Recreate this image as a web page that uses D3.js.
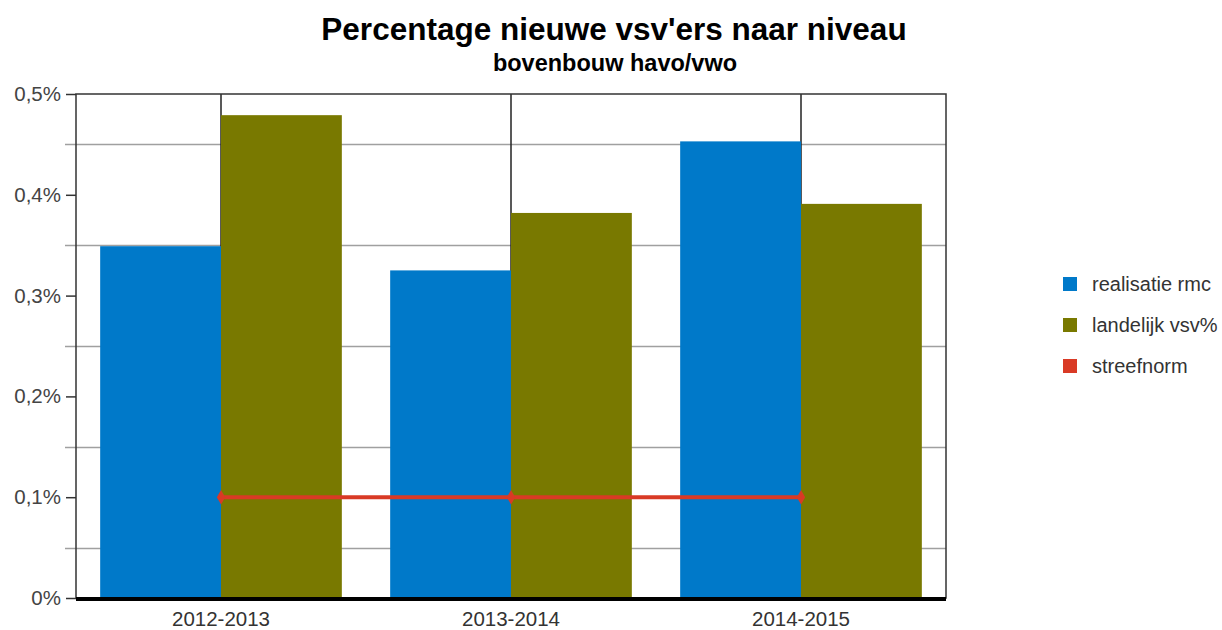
<!DOCTYPE html>
<html>
<head>
<meta charset="utf-8">
<script src="https://cdn.jsdelivr.net/npm/d3@7"></script>
<style>
  body { margin: 0; background: #fff; }
  text { font-family: "Liberation Sans", Arial, sans-serif; }
</style>
</head>
<body>
<svg id="chart" width="1222" height="630"></svg>
<script>
// data
const years = ["2012-2013", "2013-2014", "2014-2015"];
const realisatie = [0.349, 0.325, 0.453];
const landelijk = [0.479, 0.382, 0.391];
const streefnorm = [0.1, 0.1, 0.1];
const seriesNames = ["realisatie rmc", "landelijk vsv%", "streefnorm"];
const yTicks = [0, 0.1, 0.2, 0.3, 0.4, 0.5];
const yMinor = [0.05, 0.15, 0.25, 0.35, 0.45];

const colors = ["#0079c9", "#797900", "#d93a25"];

const svg = d3.select("#chart");
const margin = { top: 94, left: 76, bottom: 32, right: 276 };
const width = 1222, height = 630;

const x = d3.scaleBand().domain(years).range([margin.left, width - margin.right]);
const y = d3.scaleLinear().domain([0, 0.5]).range([height - margin.bottom, margin.top]);
const inner = d3.scaleBand().domain([0, 1]).range([0, x.bandwidth()]).paddingOuter(0.2);

const fmt = v => (v === 0 ? "0" : String(v).replace(".", ",")) + "%";

// minor gridlines
svg.append("g").selectAll("line").data(yMinor).join("line")
  .attr("x1", margin.left - 11).attr("x2", width - margin.right)
  .attr("y1", d => Math.round(y(d)) + 0.5).attr("y2", d => Math.round(y(d)) + 0.5)
  .attr("stroke", "#a0a0a0").attr("stroke-width", 1.5);

// vertical lines at category centres
svg.append("g").selectAll("line").data(years).join("line")
  .attr("x1", d => x(d) + x.bandwidth() / 2).attr("x2", d => x(d) + x.bandwidth() / 2)
  .attr("y1", y(0.5)).attr("y2", y(0))
  .attr("stroke", "#222").attr("stroke-width", 1.5);

// bars
const groups = [realisatie, landelijk];
groups.forEach((vals, s) => {
  svg.append("g").selectAll("rect").data(vals).join("rect")
    .attr("x", (v, i) => x(years[i]) + inner(s))
    .attr("width", inner.bandwidth())
    .attr("y", v => y(v))
    .attr("height", v => y(0) - y(v))
    .attr("fill", colors[s]);
});

// frame
svg.append("rect")
  .attr("x", margin.left).attr("y", y(0.5))
  .attr("width", width - margin.right - margin.left).attr("height", y(0) - y(0.5))
  .attr("fill", "none").attr("stroke", "#333").attr("stroke-width", 1.5);

// y axis
const yAxis = d3.axisLeft(y).tickValues(yTicks).tickFormat(fmt).tickSize(10).tickPadding(5);
const gy = svg.append("g").attr("transform", `translate(${margin.left},0)`).call(yAxis);
gy.select(".domain").remove();
gy.selectAll(".tick line").attr("stroke", "#333").attr("stroke-width", 1.5);
gy.selectAll("text").attr("font-size", 20.5).attr("fill", "#444");

// base line
svg.append("line")
  .attr("x1", margin.left).attr("x2", width - margin.right)
  .attr("y1", y(0) + 1).attr("y2", y(0) + 1)
  .attr("stroke", "#000").attr("stroke-width", 4);

// x axis labels
const xAxis = d3.axisBottom(x).tickSize(0).tickPadding(13);
const gx = svg.append("g").attr("transform", `translate(0,${y(0)})`).call(xAxis);
gx.select(".domain").remove();
gx.selectAll("text").attr("font-size", 20.5).attr("fill", "#333");

// streefnorm line
const line = d3.line()
  .x((v, i) => x(years[i]) + x.bandwidth() / 2)
  .y(v => y(v));
svg.append("path").datum(streefnorm)
  .attr("d", line).attr("fill", "none")
  .attr("stroke", colors[2]).attr("stroke-width", 4);
svg.append("g").selectAll("path").data(streefnorm).join("path")
  .attr("d", d3.symbol(d3.symbolDiamond, 60))
  .attr("transform", (v, i) => `translate(${x(years[i]) + x.bandwidth() / 2},${y(v)})`)
  .attr("fill", colors[2]);

// titles
svg.append("text").attr("x", 614).attr("y", 40)
  .attr("text-anchor", "middle").attr("font-size", 31.5).attr("font-weight", "bold")
  .attr("fill", "#000").text("Percentage nieuwe vsv'ers naar niveau");
svg.append("text").attr("x", 615).attr("y", 71)
  .attr("text-anchor", "middle").attr("font-size", 23.5).attr("font-weight", "bold")
  .attr("fill", "#000").text("bovenbouw havo/vwo");

// legend
const legend = svg.append("g").attr("transform", "translate(1063,277)");
seriesNames.forEach((name, i) => {
  const g = legend.append("g").attr("transform", `translate(0,${i * 41})`);
  g.append("rect").attr("width", 14).attr("height", 14).attr("fill", colors[i]);
  g.append("text").attr("x", 29).attr("y", 14)
    .attr("font-size", 20).attr("fill", "#333").text(name);
});
</script>
</body>
</html>
